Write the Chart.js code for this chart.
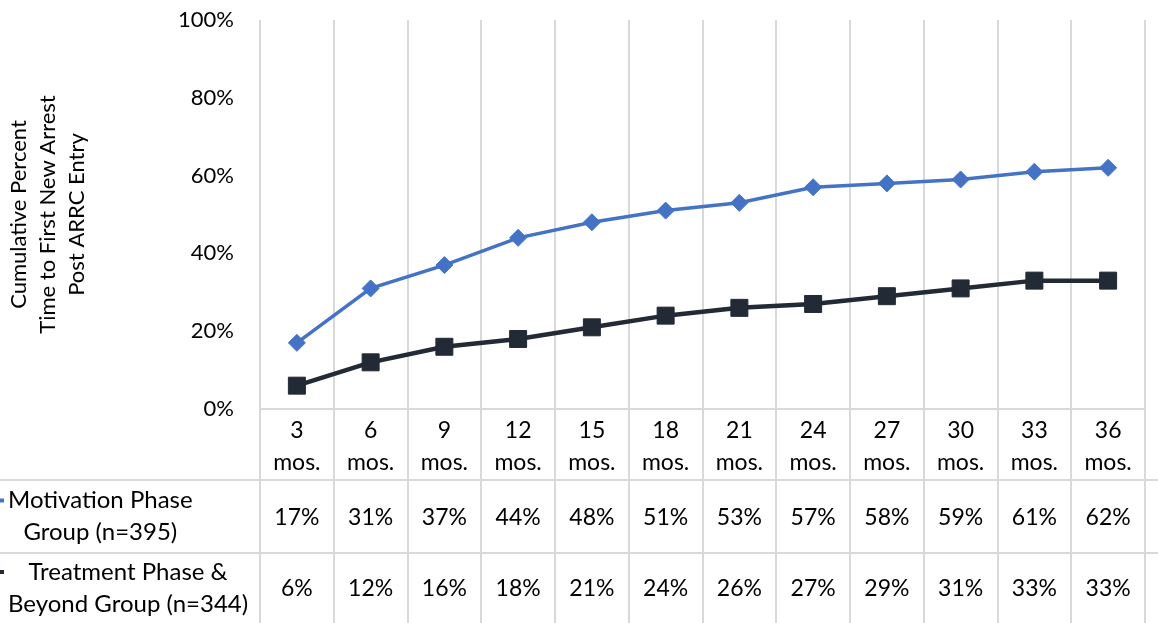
<!DOCTYPE html>
<html lang="en">
<head>
    <meta charset="UTF-8">
    <title>Cumulative Percent Time to First New Arrest</title>
    <script src="https://cdn.jsdelivr.net/npm/chart.js"></script>
    <style>
        body {
            margin: 0;
            background: #fff;
        }
        canvas {
            display: block;
        }
    </style>
</head>
<body>
    <canvas id="arrestChart" width="1158" height="623"></canvas>

    <script>
        const months = ['3', '6', '9', '12', '15', '18', '21', '24', '27', '30', '33', '36'];
        const motivation = [17, 31, 37, 44, 48, 51, 53, 57, 58, 59, 61, 62];
        const treatment = [6, 12, 16, 18, 21, 24, 26, 27, 29, 31, 33, 33];
        const seriesNames = [
            ['Motivation Phase', 'Group (n=395)'],
            ['Treatment Phase &', 'Beyond Group (n=344)']
        ];
        const yTicks = [0, 20, 40, 60, 80, 100];

        const FONT = 'Lato, "Open Sans", sans-serif';
        const GRID = '#d9d9d9';
        const BLUE = '#4472c4';
        const DARK = '#222a35';

        const headerHeight = 71;
        const rowHeights = [73, 70];

        // draws the data table under the plot, columns follow the x scale
        const dataTable = {
            id: 'dataTable',
            afterDraw(chart) {
                const ctx = chart.ctx;
                const area = chart.chartArea;
                const x = chart.scales.x;
                const step = x.getPixelForValue(1) - x.getPixelForValue(0);
                const bottom = chart.height;
                const tableTop = area.bottom + headerHeight;

                ctx.save();
                ctx.strokeStyle = GRID;
                ctx.lineWidth = 2;

                // vertical cell borders
                for (let i = 0; i <= months.length; i++) {
                    const bx = Math.round(x.getPixelForValue(0) - step / 2 + i * step);
                    ctx.beginPath();
                    ctx.moveTo(bx, area.bottom);
                    ctx.lineTo(bx, bottom);
                    ctx.stroke();
                }

                // horizontal row borders
                [tableTop, tableTop + rowHeights[0]].forEach(y => {
                    ctx.beginPath();
                    ctx.moveTo(0, y);
                    ctx.lineTo(chart.width, y);
                    ctx.stroke();
                });

                const rows = [
                    { data: motivation, color: BLUE },
                    { data: treatment, color: DARK }
                ];

                ctx.textBaseline = 'middle';

                let rowTop = tableTop;
                rows.forEach((row, r) => {
                    const h = rowHeights[r];
                    const mid = rowTop + h / 2;

                    // values
                    ctx.font = '23px ' + FONT;
                    ctx.textAlign = 'center';
                    ctx.fillStyle = '#000';
                    row.data.forEach((v, i) => {
                        ctx.fillText(v + '%', x.getPixelForValue(i), mid + 1);
                    });

                    // legend key
                    ctx.fillStyle = row.color;
                    ctx.fillRect(0, mid - 18, 4, 4);

                    // row label: block left aligned, lines centred in block
                    ctx.font = '24px ' + FONT;
                    const lines = seriesNames[r];
                    const widths = lines.map(l => ctx.measureText(l).width);
                    const blockW = Math.max(...widths);
                    const cx = 8 + blockW / 2;
                    ctx.fillStyle = '#000';
                    lines.forEach((l, k) => {
                        ctx.fillText(l, cx, mid - 16 + k * 32);
                    });

                    rowTop += h;
                });

                ctx.restore();
            }
        };

        new Chart(document.getElementById('arrestChart'), {
            type: 'line',
            data: {
                labels: months.map(m => [m, 'mos.']),
                datasets: [
                    {
                        label: seriesNames[0].join(' '),
                        data: motivation,
                        borderColor: BLUE,
                        backgroundColor: BLUE,
                        borderWidth: 3.5,
                        pointStyle: 'rectRot',
                        pointRadius: 8.5,
                        pointBorderWidth: 1,
                        tension: 0
                    },
                    {
                        label: seriesNames[1].join(' '),
                        data: treatment,
                        borderColor: DARK,
                        backgroundColor: DARK,
                        borderWidth: 4.5,
                        pointStyle: 'rect',
                        pointRadius: 12,
                        pointBorderWidth: 1,
                        tension: 0
                    }
                ]
            },
            options: {
                responsive: false,
                animation: false,
                layout: {
                    padding: { top: 20, right: 0, left: 0, bottom: 143 }
                },
                plugins: {
                    legend: { display: false },
                    tooltip: { enabled: false }
                },
                scales: {
                    x: {
                        offset: true,
                        grid: {
                            offset: true,
                            color: GRID,
                            lineWidth: 2,
                            drawTicks: false
                        },
                        border: { display: true, color: GRID, width: 2 },
                        ticks: {
                            color: '#000',
                            font: { family: FONT, size: 23, lineHeight: 1.4 },
                            padding: 5,
                            maxRotation: 0
                        },
                        afterFit(scale) {
                            scale.height = headerHeight;
                        }
                    },
                    y: {
                        min: 0,
                        max: 100,
                        afterBuildTicks(scale) {
                            scale.ticks = yTicks.map(v => ({ value: v }));
                        },
                        grid: {
                            color: 'transparent',
                            drawTicks: true,
                            tickLength: 24
                        },
                        border: { display: false },
                        ticks: {
                            color: '#000',
                            font: { family: FONT, size: 22 },
                            padding: 2,
                            callback: v => v + '%'
                        },
                        title: {
                            display: true,
                            text: ['Cumulative Percent', 'Time to First New Arrest', 'Post ARRC Entry'],
                            color: '#000',
                            font: { family: FONT, size: 22, lineHeight: 1.32 },
                            padding: { top: 4, bottom: 0 }
                        },
                        afterFit(scale) {
                            scale.width = 260;
                        }
                    }
                }
            },
            plugins: [dataTable]
        });
    </script>
</body>
</html>
